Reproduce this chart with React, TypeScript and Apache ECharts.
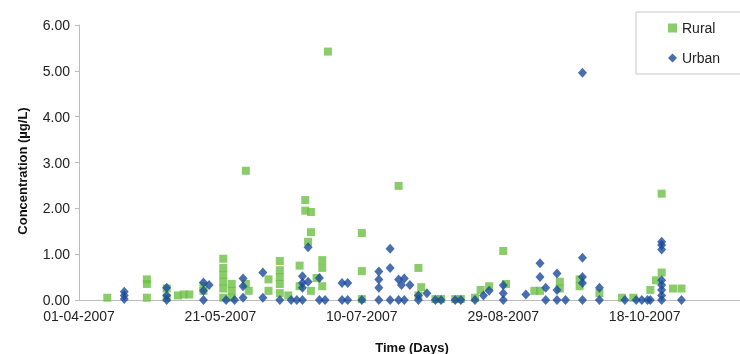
import React, { useEffect, useRef } from "react";
import * as echarts from "echarts";

const startDate = "2007-04-01";
const endDate = "2007-11-20";
const tickStepDays = 50;
const yTicks = [0, 1, 2, 3, 4, 5, 6];

const ruralDates = [
  "2007-04-11",
  "2007-04-25", "2007-04-25", "2007-04-25",
  "2007-05-02", "2007-05-02",
  "2007-05-06", "2007-05-08", "2007-05-10",
  "2007-05-15", "2007-05-15",
  "2007-05-22", "2007-05-22", "2007-05-22", "2007-05-22", "2007-05-22", "2007-05-22",
  "2007-05-25", "2007-05-25", "2007-05-25",
  "2007-05-30", "2007-05-30", "2007-05-31",
  "2007-06-07", "2007-06-07",
  "2007-06-11", "2007-06-11", "2007-06-11", "2007-06-11", "2007-06-11",
  "2007-06-14",
  "2007-06-18", "2007-06-18",
  "2007-06-20", "2007-06-20", "2007-06-21",
  "2007-06-22", "2007-06-22", "2007-06-22",
  "2007-06-24",
  "2007-06-26", "2007-06-26", "2007-06-26",
  "2007-06-28",
  "2007-07-10", "2007-07-10", "2007-07-10",
  "2007-07-23",
  "2007-07-30", "2007-07-30", "2007-07-31",
  "2007-08-05", "2007-08-07", "2007-08-12", "2007-08-14", "2007-08-19",
  "2007-08-21", "2007-08-24", "2007-08-29", "2007-08-30",
  "2007-09-09", "2007-09-11",
  "2007-09-18", "2007-09-18",
  "2007-09-25", "2007-09-25",
  "2007-10-02", "2007-10-10", "2007-10-14",
  "2007-10-20", "2007-10-22", "2007-10-24", "2007-10-24",
  "2007-10-28", "2007-10-31",
];
const ruralValues = [
  0.05,
  0.45, 0.35, 0.05,
  0.25, 0.05,
  0.1, 0.12, 0.12,
  0.3, 0.2,
  0.9, 0.7, 0.55, 0.4, 0.25, 0.05,
  0.35, 0.2, 0.05,
  2.82, 0.35, 0.2,
  0.45, 0.2,
  0.85, 0.65, 0.5, 0.35, 0.15,
  0.1,
  0.75, 0.3,
  2.18, 1.95, 1.27,
  1.92, 1.48, 0.2,
  0.48,
  0.87, 0.7, 0.3,
  5.42,
  1.46, 0.63, 0.02,
  2.49,
  0.7, 0.1, 0.28,
  0.02, 0.02, 0.02, 0.02, 0.05,
  0.22, 0.3, 1.07, 0.35,
  0.2, 0.2,
  0.4, 0.25,
  0.45, 0.3,
  0.15, 0.05, 0.05,
  0.22, 0.43, 2.32, 0.6,
  0.25, 0.25,
];

const urbanDates = [
  "2007-04-17", "2007-04-17", "2007-04-17",
  "2007-05-02", "2007-05-02", "2007-05-02",
  "2007-05-15", "2007-05-15", "2007-05-15", "2007-05-17",
  "2007-05-23", "2007-05-26",
  "2007-05-29", "2007-05-29", "2007-05-29",
  "2007-06-05", "2007-06-05",
  "2007-06-11", "2007-06-15", "2007-06-17",
  "2007-06-19", "2007-06-19", "2007-06-19", "2007-06-19",
  "2007-06-21", "2007-06-21",
  "2007-06-25", "2007-06-25", "2007-06-27",
  "2007-07-03", "2007-07-03", "2007-07-05", "2007-07-05",
  "2007-07-10",
  "2007-07-16", "2007-07-16", "2007-07-16", "2007-07-16",
  "2007-07-20", "2007-07-20", "2007-07-20",
  "2007-07-23", "2007-07-23", "2007-07-24",
  "2007-07-25", "2007-07-25", "2007-07-27",
  "2007-07-30", "2007-07-30", "2007-08-02",
  "2007-08-05", "2007-08-07", "2007-08-12", "2007-08-14", "2007-08-19",
  "2007-08-22", "2007-08-24",
  "2007-08-29", "2007-08-29", "2007-08-29",
  "2007-09-06",
  "2007-09-11", "2007-09-11",
  "2007-09-13", "2007-09-13",
  "2007-09-17", "2007-09-17", "2007-09-17",
  "2007-09-20",
  "2007-09-26", "2007-09-26", "2007-09-26", "2007-09-26", "2007-09-26",
  "2007-10-02", "2007-10-02",
  "2007-10-11", "2007-10-15", "2007-10-17", "2007-10-19", "2007-10-20",
  "2007-10-24", "2007-10-24", "2007-10-24", "2007-10-24", "2007-10-24", "2007-10-24", "2007-10-24", "2007-10-24",
  "2007-10-31",
];
const urbanValues = [
  0.18, 0.1, 0.02,
  0.27, 0.1, 0.0,
  0.38, 0.2, 0.0, 0.33,
  0.0, 0.0,
  0.47, 0.3, 0.05,
  0.6, 0.05,
  0.0, 0.0, 0.0,
  0.52, 0.37, 0.27, 0.0,
  1.15, 0.4,
  0.48, 0.0, 0.0,
  0.37, 0.0, 0.37, 0.0,
  0.0,
  0.62, 0.45, 0.27, 0.0,
  1.12, 0.7, 0.0,
  0.45, 0.0, 0.33,
  0.47, 0.0, 0.33,
  0.1, 0.0, 0.15,
  0.0, 0.0, 0.0, 0.0, 0.0,
  0.1, 0.2,
  0.32, 0.15, 0.0,
  0.12,
  0.8, 0.5,
  0.27, 0.0,
  0.58, 0.22, 0.0,
  0.0,
  4.96, 0.92, 0.5, 0.37, 0.0,
  0.27, 0.0,
  0.0, 0.0, 0.0, 0.0, 0.0,
  1.27, 1.2, 1.1, 0.43, 0.33, 0.22, 0.1, 0.0,
  0.0,
];

const DAY = 86400000;
function parseUTC(s: string) {
  const [y, m, d] = s.split("-").map(Number);
  return Date.UTC(y, m - 1, d);
}
const t0 = parseUTC(startDate);
const toDay = (s: string) => Math.round((parseUTC(s) - t0) / DAY);
const fmtDay = (d: number) => {
  const dt = new Date(t0 + d * DAY);
  const dd = String(dt.getUTCDate()).padStart(2, "0");
  const mm = String(dt.getUTCMonth() + 1).padStart(2, "0");
  return `${dd}-${mm}-${dt.getUTCFullYear()}`;
};

const GREEN = "#6dbf45";
const BLUE = "#1a4a9c";
const FONT = "Liberation Sans, Arial, sans-serif";

export default function App() {
  const ref = useRef<HTMLDivElement>(null);
  useEffect(() => {
    if (!ref.current) return;
    const chart = echarts.init(ref.current, null, { renderer: "svg" });
    const rural = ruralDates.map((d, i) => [toDay(d), ruralValues[i]]);
    const urban = urbanDates.map((d, i) => [toDay(d), urbanValues[i]]);
    chart.setOption({
      animation: false,
      textStyle: { fontFamily: FONT },
      grid: { left: 79, right: 0, top: 25, bottom: 54, containLabel: false },
      xAxis: {
        type: "value",
        min: 0,
        max: toDay(endDate) + 0.7,
        interval: tickStepDays,
        axisLine: { show: true, lineStyle: { color: "#bdbdbd", width: 1 } },
        axisTick: { show: false },
        splitLine: { show: false },
        axisLabel: {
          margin: 9,
          color: "#222",
          fontSize: 14,
          fontFamily: FONT,
          showMaxLabel: false,
          formatter: (v: number) => (v % tickStepDays === 0 ? fmtDay(v) : ""),
        },
      },
      yAxis: {
        type: "value",
        min: yTicks[0],
        max: yTicks[yTicks.length - 1],
        interval: 1,
        axisLine: { show: true, lineStyle: { color: "#bdbdbd", width: 1 } },
        axisTick: { show: true, inside: false, length: 4, lineStyle: { color: "#bdbdbd" } },
        splitLine: { show: false },
        axisLabel: {
          margin: 9,
          color: "#222",
          fontSize: 14,
          fontFamily: FONT,
          formatter: (v: number) => v.toFixed(2),
        },
      },
      legend: {
        orient: "vertical",
        left: 636,
        top: 12,
        padding: [9, 30, 9, 32],
        itemGap: 16,
        itemWidth: 9,
        itemHeight: 9,
        borderColor: "#c8c8c8",
        borderWidth: 1,
        textStyle: { fontSize: 14, color: "#222", fontFamily: FONT },
        data: [
          { name: "Rural", icon: "rect" },
          { name: "Urban", icon: "diamond" },
        ],
      },
      graphic: [
        {
          type: "text",
          x: 22,
          y: 171,
          rotation: Math.PI / 2,
          style: {
            text: "Concentration (µg/L)",
            fill: "#111",
            font: `bold 13px ${FONT}`,
            align: "center",
            verticalAlign: "middle",
          },
        },
        {
          type: "text",
          x: 412,
          y: 347,
          style: {
            text: "Time (Days)",
            fill: "#111",
            font: `bold 13px ${FONT}`,
            align: "center",
            verticalAlign: "middle",
          },
        },
      ],
      series: [
        {
          name: "Rural",
          type: "scatter",
          symbol: "rect",
          symbolSize: 8,
          itemStyle: { color: GREEN },
          data: rural,
        },
        {
          name: "Urban",
          type: "scatter",
          symbol: "diamond",
          symbolSize: [9, 10],
          itemStyle: { color: BLUE },
          data: urban,
        },
      ],
    });
    return () => chart.dispose();
  }, []);
  return (
    <div
      ref={ref}
      style={{ position: "fixed", left: 0, top: 0, width: 740, height: 354 }}
    />
  );
}
